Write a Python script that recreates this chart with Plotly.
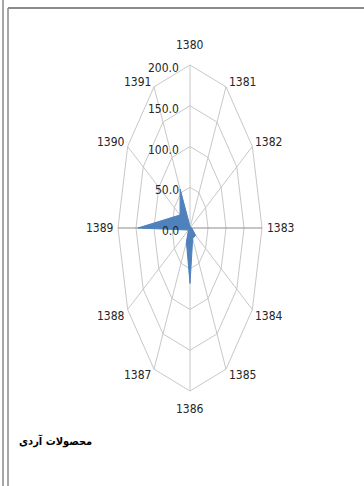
import math
import plotly.graph_objects as go

categories = ["1380", "1381", "1382", "1383", "1384", "1385",
              "1386", "1387", "1388", "1389", "1390", "1391"]
values = [2, 2, 3, 5, 18, 15, 68, 20, 5, 145, 32, 55]
ring_values = [50, 100, 150, 200]
tick_values = [0, 50, 100, 150, 200]
tick_labels = ["0.0", "50.0", "100.0", "150.0", "200.0"]
title_text = "محصولات آردی"

W, H = 364, 486
CX, CY = 190, 228          # centre in pixels
RX, RY = 72, 163           # pixel radius of 200 horizontally / vertically
RMAX = 200.0

x_range = [-CX / RX * RMAX, (W - CX) / RX * RMAX]
y_range = [-(H - CY) / RY * RMAX, CY / RY * RMAX]

n = len(categories)
angles = [2 * math.pi * i / n for i in range(n)]


def pt(r, a):
    return r * math.sin(a), r * math.cos(a)


fig = go.Figure()

grid_col = "#c8c8c8"
for rv in ring_values:
    xs, ys = [], []
    for a in angles + [angles[0]]:
        x, y = pt(rv, a)
        xs.append(x)
        ys.append(y)
    fig.add_trace(go.Scatter(x=xs, y=ys, mode="lines",
                             line=dict(color=grid_col, width=1),
                             hoverinfo="skip", showlegend=False))
for i, a in enumerate(angles):
    x, y = pt(RMAX, a)
    col = "#8c8c8c" if categories[i] in ("1383", "1389") else grid_col
    fig.add_trace(go.Scatter(x=[0, x], y=[0, y], mode="lines",
                             line=dict(color=col, width=1),
                             hoverinfo="skip", showlegend=False))

sx, sy = [], []
for v, a in zip(values + [values[0]], angles + [angles[0]]):
    x, y = pt(v, a)
    sx.append(x)
    sy.append(y)
fig.add_trace(go.Scatter(x=sx, y=sy, mode="lines", fill="toself",
                         fillcolor="#4F81BD", line=dict(color="#4F81BD", width=1),
                         name="series", showlegend=False))

font_lbl = dict(family="DejaVu Sans Condensed, Liberation Sans Narrow, sans-serif",
                size=12, color="#262626")

annotations = []
for c, a in zip(categories, angles):
    x, y = pt(RMAX, a)
    s, co = math.sin(a), math.cos(a)
    if abs(s) < 1e-6:
        if co > 0:
            annotations.append(dict(x=x, y=y, text=c, showarrow=False, font=font_lbl,
                                    xanchor="center", yanchor="bottom", yshift=11))
        else:
            annotations.append(dict(x=x, y=y, text=c, showarrow=False, font=font_lbl,
                                    xanchor="center", yanchor="top", yshift=-9))
    else:
        xa = "left" if s > 0 else "right"
        xs_ = 1 if s > 0 else -1
        if abs(co) < 1e-6:
            ys_ = 0
            xs_ = 3 if s > 0 else -2
        elif co > 0:
            ys_ = 5
        else:
            ys_ = -6
        annotations.append(dict(x=x, y=y, text=c, showarrow=False, font=font_lbl,
                                xanchor=xa, yanchor="middle", xshift=xs_, yshift=ys_))

for tv, tl in zip(tick_values, tick_labels):
    annotations.append(dict(x=0, y=tv, text=tl, showarrow=False, font=font_lbl,
                            xanchor="right", yanchor="middle", xshift=-9, yshift=-3))

annotations.append(dict(x=55 / W, y=1 - 441 / H, xref="paper", yref="paper",
                        text="<b>" + title_text + "</b>", showarrow=False,
                        font=dict(family="DejaVu Sans Condensed, DejaVu Sans, sans-serif",
                                  size=11, color="#000000"),
                        xanchor="center", yanchor="middle"))

shapes = [
    dict(type="line", xref="paper", yref="paper", x0=3 / W, x1=3 / W, y0=0, y1=1,
         line=dict(color="#8a8a8a", width=1.5)),
    dict(type="line", xref="paper", yref="paper", x0=8 / W, x1=8 / W, y0=0, y1=1 - 8 / H,
         line=dict(color="#8a8a8a", width=1.5)),
    dict(type="line", xref="paper", yref="paper", x0=8 / W, x1=1, y0=1 - 8 / H, y1=1 - 8 / H,
         line=dict(color="#8a8a8a", width=2)),
]

fig.update_layout(
    width=W, height=H,
    margin=dict(l=0, r=0, t=0, b=0),
    paper_bgcolor="white", plot_bgcolor="white",
    xaxis=dict(range=x_range, visible=False, fixedrange=True),
    yaxis=dict(range=y_range, visible=False, fixedrange=True),
    annotations=annotations, shapes=shapes,
    showlegend=False,
)

fig.write_html("out.html",
               config={"displayModeBar": False},
               post_script="document.body.style.margin='0';document.body.style.overflow='hidden';")
